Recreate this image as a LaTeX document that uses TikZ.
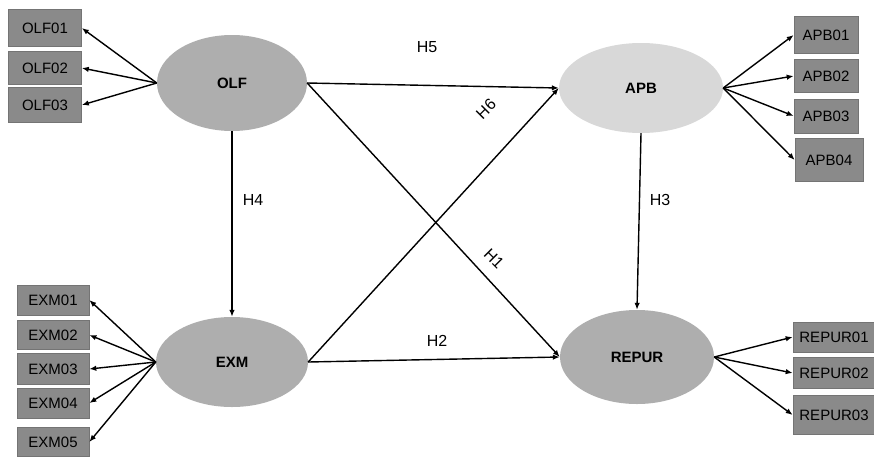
\documentclass[tikz,border=0pt]{standalone}
\usepackage{fontspec}
\setmainfont{Liberation Sans}
\usetikzlibrary{shapes.geometric,arrows.meta}
\definecolor{ellD}{HTML}{AEAEAE}
\definecolor{ellL}{HTML}{D8D8D8}
\definecolor{boxF}{HTML}{8A8A8A}
\definecolor{boxB}{HTML}{747474}
\tikzset{
  lat/.style={ellipse, inner sep=0pt, font=\fontsize{15}{17}\selectfont\bfseries},
  ind/.style={rectangle, fill=boxF, draw=boxB, line width=0.6pt, inner sep=0pt, font=\fontsize{15}{17}\selectfont},
  arr/.style={draw=black, line width=1.4pt, -{Latex[length=7pt,width=5.5pt]}},
  hl/.style={font=\fontsize{16}{18}\selectfont, inner sep=1pt}
}
\begin{document}
\begin{tikzpicture}[x=1pt,y=-1pt]
\useasboundingbox (0,0) rectangle (874,458);
\fill[white] (0,0) rectangle (874,458);
% latent variables
\node[lat, fill=ellD, minimum width=150pt, minimum height=96pt] (olf) at (232,83) {OLF};
\node[lat, fill=ellL, minimum width=164pt, minimum height=90pt] (apb) at (641,88) {APB};
\node[lat, fill=ellD, minimum width=152pt, minimum height=90pt] (exm) at (232,362) {EXM};
\node[lat, fill=ellD, minimum width=154pt, minimum height=94pt] (repur) at (637,357) {REPUR};
% indicators OLF
\node[ind, minimum width=73pt, minimum height=37pt] (olf1) at (45,28) {OLF01};
\node[ind, minimum width=73pt, minimum height=33pt] (olf2) at (45,68) {OLF02};
\node[ind, minimum width=73pt, minimum height=35pt] (olf3) at (45,105) {OLF03};
% indicators APB
\node[ind, minimum width=64pt, minimum height=37pt] (apb1) at (826,35) {APB01};
\node[ind, minimum width=64pt, minimum height=33pt] (apb2) at (826,76) {APB02};
\node[ind, minimum width=64pt, minimum height=34pt] (apb3) at (826,116) {APB03};
\node[ind, minimum width=68pt, minimum height=43pt] (apb4) at (829,160) {APB04};
% indicators EXM
\node[ind, minimum width=72pt, minimum height=30pt] (exm1) at (53,300) {EXM01};
\node[ind, minimum width=72pt, minimum height=29pt] (exm2) at (53,335) {EXM02};
\node[ind, minimum width=72pt, minimum height=31pt] (exm3) at (53,369) {EXM03};
\node[ind, minimum width=72pt, minimum height=30pt] (exm4) at (53,403) {EXM04};
\node[ind, minimum width=72pt, minimum height=29pt] (exm5) at (53,442) {EXM05};
% indicators REPUR
\node[ind, minimum width=82pt, minimum height=30pt] (rep1) at (834,337) {REPUR01};
\node[ind, minimum width=82pt, minimum height=31pt] (rep2) at (834,373) {REPUR02};
\node[ind, minimum width=82pt, minimum height=39pt] (rep3) at (834,415) {REPUR03};
% measurement arrows
\foreach \t in {olf1,olf2,olf3} \draw[arr] (olf.west) -- (\t.east);
\foreach \t in {exm1,exm2,exm3,exm4,exm5} \draw[arr] (exm.west) -- (\t.east);
\foreach \t in {apb1,apb2,apb3,apb4} \draw[arr] (apb.east) -- (\t.west);
\foreach \t in {rep1,rep2,rep3} \draw[arr] (repur.east) -- (\t.west);
% structural arrows
\draw[arr] (olf.east) -- (apb.west);
\draw[arr] (olf.east) -- (repur.west);
\draw[arr] (exm.east) -- (apb.west);
\draw[arr] (exm.east) -- (repur.west);
\draw[arr] (olf.south) -- (exm.north);
\draw[arr] (apb.south) -- (repur.north);
% hypothesis labels
\node[hl] (h5) at (427,47) {H5};
\node[hl, rotate=45] (h6) at (486,109) {H6};
\node[hl, rotate=-45] (h1) at (494,259) {H1};
\node[hl] (h4) at (253,200) {H4};
\node[hl] (h3) at (660,200) {H3};
\node[hl] (h2) at (437,341) {H2};
\end{tikzpicture}
\end{document}
